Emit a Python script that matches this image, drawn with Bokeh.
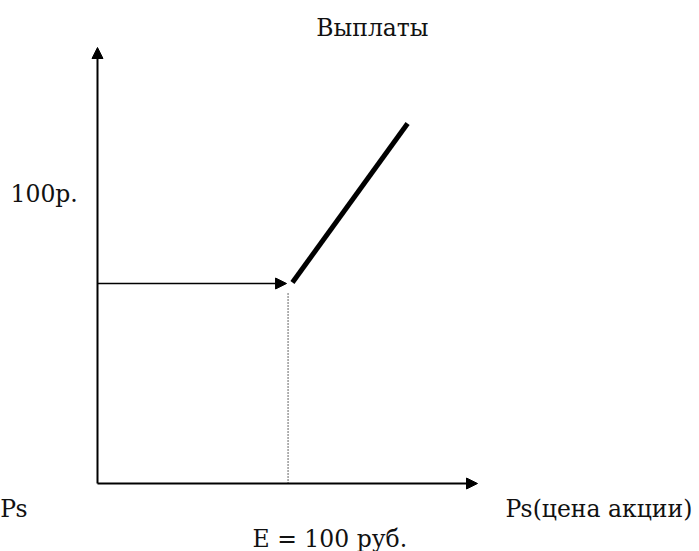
from bokeh.plotting import figure
from bokeh.models import Range1d, Arrow, NormalHead, ColumnDataSource
from bokeh.core.properties import value
from bokeh.embed import file_html
from bokeh.resources import INLINE

# --- data (price Ps on x, payout on y) ---
x_axis_x = [0, 200]
x_axis_y = [0, 0]
y_axis_x = [0, 0]
y_axis_y = [0, 218]
level_x = [0, 99.5]
level_y = [100, 100]
strike_x = [100.3, 100.3]
strike_y = [0, 95.5]
payoff_x = [102.6, 163.2]
payoff_y = [100.5, 180]

label_text = ["Выплаты", "100р.", "Ps", "Ps(цена акции)", "E = 100 руб."]
label_x = [144.7, -45.8, -36.8, 214.7, 81.6]
label_y = [228, 145, -12.5, -12.5, -27.5]
label_align = ["center", "left", "right", "left", "left"]

p = figure(width=699, height=551, output_backend="svg", toolbar_location=None,
           x_range=Range1d(-51.05, 316.84), y_range=Range1d(-34, 241.5),
           min_border=0, outline_line_color=None)
p.axis.visible = False
p.grid.visible = False

def arrow(xs, ys, w):
    p.add_layout(Arrow(x_start=xs[0], y_start=ys[0], x_end=xs[1], y_end=ys[1],
                       line_width=w, line_color="black",
                       end=NormalHead(size=11, fill_color="black", line_color="black", line_width=1)))

arrow(y_axis_x, y_axis_y, 2)
arrow(x_axis_x, x_axis_y, 2)
arrow(level_x, level_y, 1.5)

p.line(strike_x, strike_y, line_color="black", line_width=1.2, line_dash="1 2")
p.line(payoff_x, payoff_y, line_color="black", line_width=5, line_cap="butt")

src = ColumnDataSource(dict(x=label_x, y=label_y, t=label_text, a=label_align))
p.text(x="x", y="y", text="t", text_align="a", source=src,
       text_baseline="alphabetic", text_font=value("DejaVu Serif"),
       text_font_size="23.5px", text_color="#111111")

open("out.html", "w").write(file_html(p, INLINE))
